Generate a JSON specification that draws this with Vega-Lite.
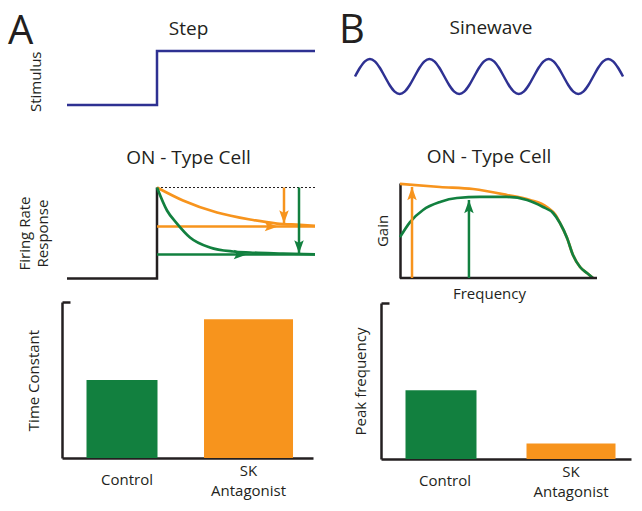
{
  "$schema": "https://vega.github.io/schema/vega-lite/v6.json",
  "background": "white",
  "padding": {"left": 8, "top": 11, "right": 2, "bottom": 2},
  "config": {
    "font": "Open Sans",
    "view": {"stroke": null},
    "title": {"fontSize": 19, "fontWeight": "normal", "color": "#231f20"},
    "axis": {"titleFontSize": 15, "titleFontWeight": "normal", "titleColor": "#231f20", "labelFontSize": 15, "labelColor": "#231f20", "grid": false, "domainColor": "#231f20", "tickColor": "#231f20", "domainWidth": 2.5, "tickWidth": 2.5}
  },
  "datasets": {
    "stim": [{"t": -1.8, "v": 0}, {"t": 0, "v": 1}, {"t": 3.16, "v": 1}],
    "trace": [{"t": -1.8, "rate": 0}, {"t": 0, "rate": 100}],
    "peakline": [{"t": 0, "rate": 100}, {"t": 3.16, "rate": 100}],
    "steadyline": [{"cond": "SK Antagonist", "t": 0, "rate": 57.1}, {"cond": "SK Antagonist", "t": 3.16, "rate": 57.1}, {"cond": "Control", "t": 0, "rate": 26.4}, {"cond": "Control", "t": 3.16, "rate": 26.4}],
    "steadytip": [{"cond": "SK Antagonist", "t": 2.42, "rate": 57.1}, {"cond": "Control", "t": 1.8, "rate": 26.4}],
    "decay": [
      {"cond": "SK Antagonist", "t": 0, "rate": 100}, {"cond": "SK Antagonist", "t": 0.52, "rate": 85.7}, {"cond": "SK Antagonist", "t": 1.2, "rate": 72.5}, {"cond": "SK Antagonist", "t": 1.86, "rate": 64.8}, {"cond": "SK Antagonist", "t": 2.4, "rate": 60.4}, {"cond": "SK Antagonist", "t": 2.86, "rate": 58.9}, {"cond": "SK Antagonist", "t": 3.16, "rate": 57.8},
      {"cond": "Control", "t": 0, "rate": 100}, {"cond": "Control", "t": 0.2, "rate": 74.7}, {"cond": "Control", "t": 0.4, "rate": 60.4}, {"cond": "Control", "t": 0.66, "rate": 45.1}, {"cond": "Control", "t": 1.06, "rate": 34.1}, {"cond": "Control", "t": 1.52, "rate": 29.7}, {"cond": "Control", "t": 1.86, "rate": 28.6}, {"cond": "Control", "t": 2.52, "rate": 27.5}, {"cond": "Control", "t": 3.16, "rate": 26.6}
    ],
    "drop": [{"cond": "SK Antagonist", "t": 2.54, "rate": 60.4}, {"cond": "Control", "t": 2.84, "rate": 27.5}],
    "sine": [
      {"phase": 0, "s": 0}, {"phase": 30, "s": 0.5}, {"phase": 60, "s": 0.866}, {"phase": 90, "s": 1}, {"phase": 120, "s": 0.866}, {"phase": 150, "s": 0.5}, {"phase": 180, "s": 0}, {"phase": 210, "s": -0.5}, {"phase": 240, "s": -0.866}, {"phase": 270, "s": -1}, {"phase": 300, "s": -0.866}, {"phase": 330, "s": -0.5},
      {"phase": 360, "s": 0}, {"phase": 390, "s": 0.5}, {"phase": 420, "s": 0.866}, {"phase": 450, "s": 1}, {"phase": 480, "s": 0.866}, {"phase": 510, "s": 0.5}, {"phase": 540, "s": 0}, {"phase": 570, "s": -0.5}, {"phase": 600, "s": -0.866}, {"phase": 630, "s": -1}, {"phase": 660, "s": -0.866}, {"phase": 690, "s": -0.5},
      {"phase": 720, "s": 0}, {"phase": 750, "s": 0.5}, {"phase": 780, "s": 0.866}, {"phase": 810, "s": 1}, {"phase": 840, "s": 0.866}, {"phase": 870, "s": 0.5}, {"phase": 900, "s": 0}, {"phase": 930, "s": -0.5}, {"phase": 960, "s": -0.866}, {"phase": 990, "s": -1}, {"phase": 1020, "s": -0.866}, {"phase": 1050, "s": -0.5},
      {"phase": 1080, "s": 0}, {"phase": 1110, "s": 0.5}, {"phase": 1140, "s": 0.866}, {"phase": 1170, "s": 1}, {"phase": 1200, "s": 0.866}, {"phase": 1230, "s": 0.5}, {"phase": 1260, "s": 0}, {"phase": 1290, "s": -0.5}, {"phase": 1320, "s": -0.866}, {"phase": 1350, "s": -1}, {"phase": 1380, "s": -0.866}, {"phase": 1410, "s": -0.5},
      {"phase": 1440, "s": 0}, {"phase": 1470, "s": 0.5}, {"phase": 1500, "s": 0.866}, {"phase": 1530, "s": 1}, {"phase": 1560, "s": 0.866}, {"phase": 1590, "s": 0.5}, {"phase": 1620, "s": 0}
    ],
    "gain": [
      {"cond": "SK Antagonist", "f": 0, "g": 0.99}, {"cond": "SK Antagonist", "f": 2.03, "g": 0.958}, {"cond": "SK Antagonist", "f": 3.71, "g": 0.937}, {"cond": "SK Antagonist", "f": 5.43, "g": 0.874}, {"cond": "SK Antagonist", "f": 6.6, "g": 0.821}, {"cond": "SK Antagonist", "f": 7.46, "g": 0.747}, {"cond": "SK Antagonist", "f": 7.9, "g": 0.663}, {"cond": "SK Antagonist", "f": 8.12, "g": 0.579}, {"cond": "SK Antagonist", "f": 8.48, "g": 0.421}, {"cond": "SK Antagonist", "f": 8.78, "g": 0.242}, {"cond": "SK Antagonist", "f": 9.14, "g": 0.116}, {"cond": "SK Antagonist", "f": 9.49, "g": 0.053}, {"cond": "SK Antagonist", "f": 9.8, "g": 0},
      {"cond": "Control", "f": 0, "g": 0.43}, {"cond": "Control", "f": 0.51, "g": 0.589}, {"cond": "Control", "f": 1.17, "g": 0.716}, {"cond": "Control", "f": 2.03, "g": 0.8}, {"cond": "Control", "f": 2.89, "g": 0.842}, {"cond": "Control", "f": 4.06, "g": 0.853}, {"cond": "Control", "f": 5.43, "g": 0.853}, {"cond": "Control", "f": 6.45, "g": 0.821}, {"cond": "Control", "f": 7.26, "g": 0.747}, {"cond": "Control", "f": 7.77, "g": 0.684}, {"cond": "Control", "f": 8.12, "g": 0.579}, {"cond": "Control", "f": 8.48, "g": 0.421}, {"cond": "Control", "f": 8.78, "g": 0.242}, {"cond": "Control", "f": 9.14, "g": 0.116}, {"cond": "Control", "f": 9.49, "g": 0.053}, {"cond": "Control", "f": 9.8, "g": 0}
    ],
    "peakgain": [{"cond": "SK Antagonist", "f": 0.61, "g": 0.958}, {"cond": "Control", "f": 3.5, "g": 0.821}],
    "barsA": [{"cond": "Control", "value": 5.0}, {"cond": "SK Antagonist", "value": 8.9}],
    "barsB": [{"cond": "Control", "value": 4.4}, {"cond": "SK Antagonist", "value": 1.0}],
    "origin": [{"f": 0, "g": 0}]
  },
  "columns": 2,
  "align": "none",
  "spacing": 17,
  "concat": [
    {
      "title": {"text": "A", "anchor": "start", "fontSize": 40, "offset": -32, "dx": -9},
      "spacing": 16.5,
      "vconcat": [
        {
          "title": {"text": "Step", "offset": 7},
          "width": 253, "height": 81,
          "data": {"name": "stim"},
          "mark": {"type": "line", "interpolate": "step-after", "strokeWidth": 2.5, "color": "#2e3192"},
          "encoding": {
            "x": {"field": "t", "type": "quantitative", "scale": {"domain": [-1.9, 3.16], "nice": false, "zero": false}, "axis": null},
            "y": {"field": "v", "type": "quantitative", "scale": {"domain": [-0.5, 1], "nice": false, "zero": false}, "axis": {"title": "Stimulus", "domain": false, "ticks": false, "labels": false, "titleAnchor": "end", "titlePadding": 19}}
          }
        },
        {
          "title": {"text": "ON - Type Cell", "offset": 14},
          "width": 253, "height": 91,
          "layer": [
            {
              "data": {"name": "trace"},
              "mark": {"type": "line", "interpolate": "step-after", "strokeWidth": 2.5, "color": "#231f20"},
              "encoding": {
                "x": {"field": "t", "type": "quantitative", "scale": {"domain": [-1.9, 3.16], "nice": false, "zero": false}, "axis": null},
                "y": {"field": "rate", "type": "quantitative", "scale": {"domain": [0, 100], "nice": false}, "axis": {"title": ["Firing Rate", "Response"], "domain": false, "ticks": false, "labels": false, "titlePadding": 12, "titleLineHeight": 18}}
              }
            },
            {
              "data": {"name": "peakline"},
              "mark": {"type": "line", "strokeDash": [2, 2], "strokeWidth": 1, "color": "#231f20"},
              "encoding": {
                "x": {"field": "t", "type": "quantitative", "axis": null},
                "y": {"field": "rate", "type": "quantitative", "axis": {"title": ["Firing Rate", "Response"], "domain": false, "ticks": false, "labels": false, "titlePadding": 12, "titleLineHeight": 18}}
              }
            },
            {
              "data": {"name": "steadyline"},
              "mark": {"type": "line", "strokeWidth": 2.5},
              "encoding": {
                "x": {"field": "t", "type": "quantitative", "axis": null},
                "y": {"field": "rate", "type": "quantitative", "axis": {"title": ["Firing Rate", "Response"], "domain": false, "ticks": false, "labels": false, "titlePadding": 12, "titleLineHeight": 18}},
                "color": {"field": "cond", "type": "nominal", "scale": {"domain": ["Control", "SK Antagonist"], "range": ["#12803f", "#f7941d"]}, "legend": null}
              }
            },
            {
              "data": {"name": "decay"},
              "mark": {"type": "line", "interpolate": "monotone", "strokeWidth": 2.7},
              "encoding": {
                "x": {"field": "t", "type": "quantitative", "axis": null},
                "y": {"field": "rate", "type": "quantitative", "axis": {"title": ["Firing Rate", "Response"], "domain": false, "ticks": false, "labels": false, "titlePadding": 12, "titleLineHeight": 18}},
                "color": {"field": "cond", "type": "nominal", "scale": {"domain": ["Control", "SK Antagonist"], "range": ["#12803f", "#f7941d"]}, "legend": null}
              }
            },
            {
              "data": {"name": "steadytip"},
              "mark": {"type": "point", "shape": "M0,0L-1,-0.36L-0.8,0L-1,0.36Z", "filled": true, "size": 700, "opacity": 1},
              "encoding": {
                "x": {"field": "t", "type": "quantitative", "axis": null},
                "y": {"field": "rate", "type": "quantitative", "axis": {"title": ["Firing Rate", "Response"], "domain": false, "ticks": false, "labels": false, "titlePadding": 12, "titleLineHeight": 18}},
                "color": {"field": "cond", "type": "nominal", "scale": {"domain": ["Control", "SK Antagonist"], "range": ["#12803f", "#f7941d"]}, "legend": null}
              }
            },
            {
              "data": {"name": "drop"},
              "mark": {"type": "rule", "strokeWidth": 2.5},
              "encoding": {
                "x": {"field": "t", "type": "quantitative", "axis": null},
                "y": {"field": "rate", "type": "quantitative", "axis": {"title": ["Firing Rate", "Response"], "domain": false, "ticks": false, "labels": false, "titlePadding": 12, "titleLineHeight": 18}},
                "y2": {"datum": 100},
                "color": {"field": "cond", "type": "nominal", "scale": {"domain": ["Control", "SK Antagonist"], "range": ["#12803f", "#f7941d"]}, "legend": null}
              }
            },
            {
              "data": {"name": "drop"},
              "mark": {"type": "point", "shape": "M0,0L-0.36,-1L0,-0.8L0.36,-1Z", "filled": true, "size": 700, "opacity": 1},
              "encoding": {
                "x": {"field": "t", "type": "quantitative", "axis": null},
                "y": {"field": "rate", "type": "quantitative", "axis": {"title": ["Firing Rate", "Response"], "domain": false, "ticks": false, "labels": false, "titlePadding": 12, "titleLineHeight": 18}},
                "color": {"field": "cond", "type": "nominal", "scale": {"domain": ["Control", "SK Antagonist"], "range": ["#12803f", "#f7941d"]}, "legend": null}
              }
            }
          ]
        },
        {
          "data": {"name": "barsA"},
          "width": 251, "height": 156,
          "mark": {"type": "bar"},
          "encoding": {
            "x": {"field": "cond", "type": "nominal", "scale": {"paddingInner": 0.37, "paddingOuter": 0.177, "align": 0.45}, "axis": {"title": null, "ticks": false, "labelAngle": 0, "labelBaseline": {"condition": {"test": "datum.value == 'Control'", "value": "line-top"}, "value": "middle"}, "labelOffset": {"condition": {"test": "datum.value == 'Control'", "value": 5}, "value": 0}, "labelLineHeight": 20, "labelPadding": 12, "labelExpr": "split(datum.label, ' ')"}},
            "y": {"field": "value", "type": "quantitative", "scale": {"domain": [0, 10], "nice": false}, "axis": {"title": "Time Constant", "labels": false, "values": [10], "tickSize": -8, "titlePadding": 19}},
            "color": {"field": "cond", "type": "nominal", "scale": {"domain": ["Control", "SK Antagonist"], "range": ["#12803f", "#f7941d"]}, "legend": null},
            "size": {"field": "cond", "type": "ordinal", "scale": {"domain": ["Control", "SK Antagonist"], "range": [71, 89]}, "legend": null}
          }
        }
      ]
    },
    {
      "title": {"text": "B", "anchor": "start", "fontSize": 40, "offset": -32, "dx": -11},
      "spacing": 0,
      "vconcat": [
        {
          "title": {"text": "Sinewave", "offset": 13},
          "width": 220, "height": 96,
          "data": {"name": "sine"},
          "mark": {"type": "line", "interpolate": "monotone", "strokeWidth": 2.5, "color": "#2e3192"},
          "encoding": {
            "x": {"field": "phase", "type": "quantitative", "scale": {"domain": [157.2, 1486.9], "nice": false, "zero": false}, "axis": null},
            "y": {"field": "s", "type": "quantitative", "scale": {"domain": [-4.029, 1.457], "nice": false, "zero": false}, "axis": null}
          }
        },
        {
          "title": {"text": "ON - Type Cell", "offset": 12},
          "width": 216, "height": 95,
          "layer": [
            {
              "data": {"name": "gain"},
              "mark": {"type": "line", "interpolate": "monotone", "strokeWidth": 2.7},
              "encoding": {
                "x": {"field": "f", "type": "quantitative", "scale": {"domain": [-0.964, 10], "nice": false, "zero": false}, "axis": {"title": "Frequency", "domain": false, "ticks": false, "labels": false, "titlePadding": 8}},
                "y": {"field": "g", "type": "quantitative", "scale": {"domain": [0, 1], "nice": false}, "axis": {"title": "Gain", "offset": -19, "ticks": false, "labels": false, "titlePadding": 10}},
                "color": {"field": "cond", "type": "nominal", "scale": {"domain": ["Control", "SK Antagonist"], "range": ["#12803f", "#f7941d"]}, "legend": null}
              }
            },
            {
              "data": {"name": "origin"},
              "mark": {"type": "rule", "strokeWidth": 2.5, "color": "#231f20"},
              "encoding": {
                "x": {"field": "f", "type": "quantitative", "axis": {"title": "Frequency", "domain": false, "ticks": false, "labels": false, "titlePadding": 8}},
                "x2": {"datum": 10},
                "y": {"field": "g", "type": "quantitative", "axis": {"title": "Gain", "offset": -19, "ticks": false, "labels": false, "titlePadding": 10}}
              }
            },
            {
              "data": {"name": "peakgain"},
              "mark": {"type": "rule", "strokeWidth": 2.5},
              "encoding": {
                "x": {"field": "f", "type": "quantitative", "axis": {"title": "Frequency", "domain": false, "ticks": false, "labels": false, "titlePadding": 8}},
                "y": {"field": "g", "type": "quantitative", "axis": {"title": "Gain", "offset": -19, "ticks": false, "labels": false, "titlePadding": 10}},
                "y2": {"datum": 0},
                "color": {"field": "cond", "type": "nominal", "scale": {"domain": ["Control", "SK Antagonist"], "range": ["#12803f", "#f7941d"]}, "legend": null}
              }
            },
            {
              "data": {"name": "peakgain"},
              "mark": {"type": "point", "shape": "M0,0L-0.36,1L0,0.8L0.36,1Z", "filled": true, "size": 700, "opacity": 1},
              "encoding": {
                "x": {"field": "f", "type": "quantitative", "axis": {"title": "Frequency", "domain": false, "ticks": false, "labels": false, "titlePadding": 8}},
                "y": {"field": "g", "type": "quantitative", "axis": {"title": "Gain", "offset": -19, "ticks": false, "labels": false, "titlePadding": 10}},
                "color": {"field": "cond", "type": "nominal", "scale": {"domain": ["Control", "SK Antagonist"], "range": ["#12803f", "#f7941d"]}, "legend": null}
              }
            }
          ]
        },
        {
          "data": {"name": "barsB"},
          "width": 250, "height": 156,
          "mark": {"type": "bar"},
          "encoding": {
            "x": {"field": "cond", "type": "nominal", "scale": {"paddingInner": 0.37, "paddingOuter": 0.1465, "align": 0.5}, "axis": {"title": null, "ticks": false, "labelAngle": 0, "labelBaseline": {"condition": {"test": "datum.value == 'Control'", "value": "line-top"}, "value": "middle"}, "labelOffset": {"condition": {"test": "datum.value == 'Control'", "value": 4}, "value": 0}, "labelLineHeight": 20, "labelPadding": 12, "labelExpr": "split(datum.label, ' ')"}},
            "y": {"field": "value", "type": "quantitative", "scale": {"domain": [0, 10], "nice": false}, "axis": {"title": "Peak frequency", "labels": false, "values": [10], "tickSize": -8, "titlePadding": 11}},
            "color": {"field": "cond", "type": "nominal", "scale": {"domain": ["Control", "SK Antagonist"], "range": ["#12803f", "#f7941d"]}, "legend": null},
            "size": {"field": "cond", "type": "ordinal", "scale": {"domain": ["Control", "SK Antagonist"], "range": [71, 89]}, "legend": null}
          }
        }
      ]
    }
  ]
}
